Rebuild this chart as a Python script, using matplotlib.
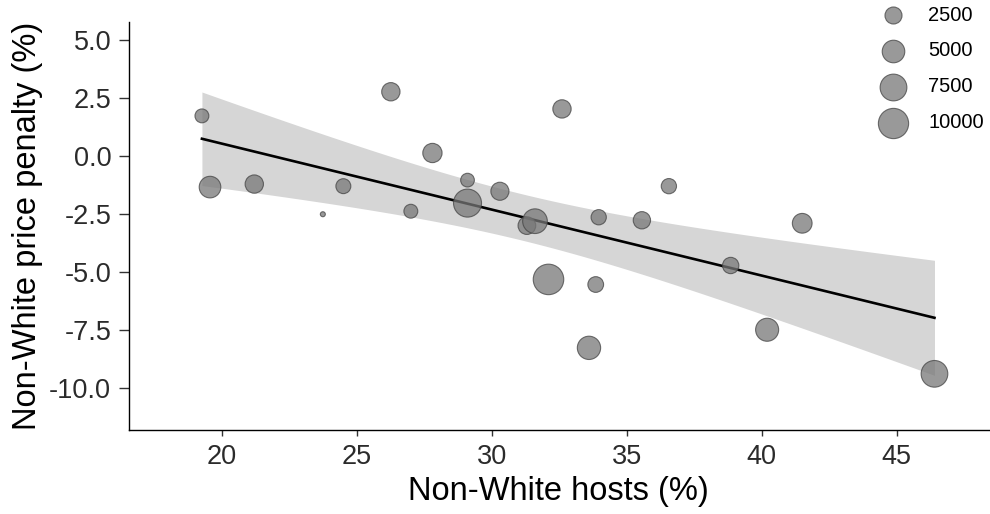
import numpy as np
import matplotlib
matplotlib.use('Agg')
import matplotlib.pyplot as plt

plt.rcParams['font.family'] = ['Liberation Sans', 'DejaVu Sans']

### Values
nonwhite_hosts = [19.26, 19.56, 21.2, 23.74, 24.5, 26.26, 27.0, 27.8, 29.1, 29.1,
                  30.3, 31.3, 31.6, 32.1, 32.6, 33.96, 33.85, 33.6, 35.56, 36.56,
                  38.85, 40.2, 41.5, 46.4]
price_penalty = [1.73, -1.34, -1.21, -2.51, -1.30, 2.77, -2.38, 0.13, -1.04, -2.03,
                 -1.52, -3.00, -2.81, -5.32, 2.03, -2.64, -5.54, -8.27, -2.77, -1.30,
                 -4.72, -7.49, -2.90, -9.39]
listings = [1500, 4500, 3000, 300, 1800, 3000, 1500, 3400, 1450, 8350,
            2900, 2750, 6200, 10200, 3000, 1900, 2050, 5400, 2600, 1900,
            2250, 5250, 3600, 7450]
legend_breaks = [2500, 5000, 7500, 10000]
x_ticks = [20, 25, 30, 35, 40, 45]
y_ticks = [5.0, 2.5, 0.0, -2.5, -5.0, -7.5, -10.0]

x = np.array(nonwhite_hosts)
y = np.array(price_penalty)
n = np.array(listings, dtype=float)

### Size scale like ggplot's area palette (diameter in pixels)
vmin, vmax = n.min(), n.max()
def marker_area(v):
    d_px = 6 + 25.5 * np.sqrt((np.asarray(v, dtype=float) - vmin) / (vmax - vmin))
    return ((d_px - 1.0) * 0.72) ** 2

### Ordinary least squares fit with 95% confidence band
xbar = x.mean()
sxx = np.sum((x - xbar) ** 2)
slope = np.sum((x - xbar) * (y - y.mean())) / sxx
intercept = y.mean() - slope * xbar
resid = y - (intercept + slope * x)
s = np.sqrt(np.sum(resid ** 2) / (len(x) - 2))
t_crit = 2.0739   # t(0.975, df=22)
xs = np.linspace(x.min(), x.max(), 80)
fit = intercept + slope * xs
half = t_crit * s * np.sqrt(1 / len(x) + (xs - xbar) ** 2 / sxx)

fig = plt.figure(figsize=(9.9, 5.14), dpi=100)
W, H = 990, 514
ax = fig.add_axes([128.5 / W, 1 - 429.5 / H, (989 - 128.5) / W, (429.5 - 21.7) / H])

ax.fill_between(xs, fit - half, fit + half, color='#d6d6d6', lw=0, zorder=1)
ax.plot(xs, fit, color='black', lw=1.9, zorder=2)
ax.scatter(x, y, s=marker_area(n), facecolor='#777777', edgecolor='#444444',
           linewidths=0.8, alpha=0.75, zorder=3)

ax.set_xlim(16.54, 48.42)
ax.set_ylim(-11.79, 5.79)
ax.set_xticks(x_ticks)
ax.set_yticks(y_ticks)
ax.set_yticklabels(['%.1f' % v for v in y_ticks])

for side in ['top', 'right']:
    ax.spines[side].set_visible(False)
for side in ['left', 'bottom']:
    ax.spines[side].set_linewidth(1.0)
    ax.spines[side].set_color('black')

ax.tick_params(axis='both', labelsize=19.5, labelcolor='#2b2b2b', color='#333333', width=1.0)
ax.tick_params(axis='y', length=7.5, pad=5)
ax.tick_params(axis='x', length=4.5, pad=6)

ax.set_xlabel('Non-White hosts (%)', fontsize=23.5, labelpad=4)
ax.set_ylabel('Non-White price penalty (%)', fontsize=23.5, labelpad=4.5)

### Size legend drawn by hand in the top-right corner
ax_w, ax_h = 989 - 128.5, 429.5 - 21.7
for i, b in enumerate(legend_breaks):
    py = 15 + 36 * i
    fy = (429.5 - py) / ax_h
    ax.scatter([(893 - 128.5) / ax_w], [fy], s=marker_area(b), facecolor='#777777',
               edgecolor='#444444', linewidths=0.8, alpha=0.75,
               transform=ax.transAxes, clip_on=False, zorder=4)
    ax.text((928 - 128.5) / ax_w, fy, str(b), transform=ax.transAxes,
            fontsize=14.5, color='black', va='center', ha='left')

fig.savefig('out.png', dpi=100)
